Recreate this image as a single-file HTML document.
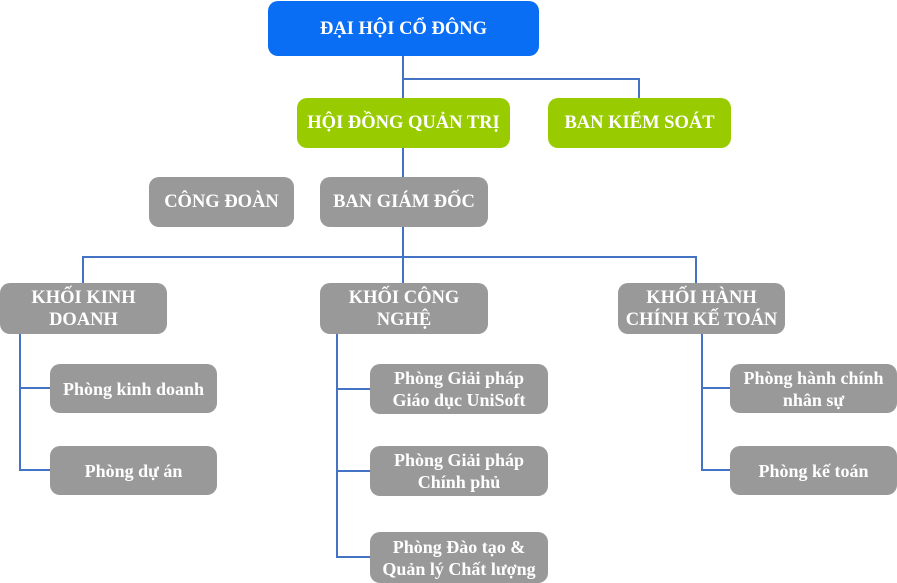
<!DOCTYPE html>
<html><head><meta charset="utf-8"><style>
body{margin:0;width:897px;height:583px;background:#fff;position:relative;overflow:hidden;font-family:"Liberation Serif","Noto Serif CJK SC",serif;}
.b{position:absolute;display:flex;align-items:center;justify-content:center;text-align:center;color:#fff;font-weight:bold;border-radius:10px;background:#999;line-height:22px;box-sizing:border-box;white-space:nowrap;}
.u{font-size:18.5px}.s{font-size:18px}
svg{position:absolute;left:0;top:0}
</style></head><body>
<svg width="897" height="583"><g stroke="#4472c4" stroke-width="2" fill="none">
<path d="M403 56V283M403 79H639V98M83 283V257H696V283"/>
<path d="M20 333V470H50M20 388H50"/>
<path d="M337 333V557H370M337 389H370M337 471H370"/>
<path d="M702 333V470H730M702 388H730"/>
</g></svg>
<div class="b u" style="left:268px;top:1px;width:271px;height:55px;background:#0a6ef5">ĐẠI HỘI CỔ ĐÔNG</div>
<div class="b u" style="left:297px;top:98px;width:213px;height:50px;background:#99cc00">HỘI ĐỒNG QUẢN TRỊ</div>
<div class="b u" style="left:548px;top:98px;width:183px;height:50px;background:#99cc00">BAN KIỂM SOÁT</div>
<div class="b u" style="left:149px;top:177px;width:145px;height:50px">CÔNG ĐOÀN</div>
<div class="b u" style="left:320px;top:177px;width:168px;height:50px">BAN GIÁM ĐỐC</div>
<div class="b u" style="left:0;top:283px;width:167px;height:51px">KHỐI KINH<br>DOANH</div>
<div class="b u" style="left:320px;top:283px;width:168px;height:51px">KHỐI CÔNG<br>NGHỆ</div>
<div class="b u" style="left:618px;top:283px;width:167px;height:51px">KHỐI HÀNH<br>CHÍNH KẾ TOÁN</div>
<div class="b s" style="left:50px;top:364px;width:167px;height:49px">Phòng kinh doanh</div>
<div class="b s" style="left:50px;top:446px;width:167px;height:49px">Phòng dự án</div>
<div class="b s" style="left:370px;top:364px;width:178px;height:50px">Phòng Giải pháp<br>Giáo dục UniSoft</div>
<div class="b s" style="left:370px;top:446px;width:178px;height:50px">Phòng Giải pháp<br>Chính phủ</div>
<div class="b s" style="left:370px;top:532px;width:178px;height:51px">Phòng Đào tạo &amp;<br>Quản lý Chất lượng</div>
<div class="b s" style="left:730px;top:364px;width:167px;height:49px">Phòng hành chính<br>nhân sự</div>
<div class="b s" style="left:730px;top:446px;width:167px;height:49px">Phòng kế toán</div>
</body></html>
